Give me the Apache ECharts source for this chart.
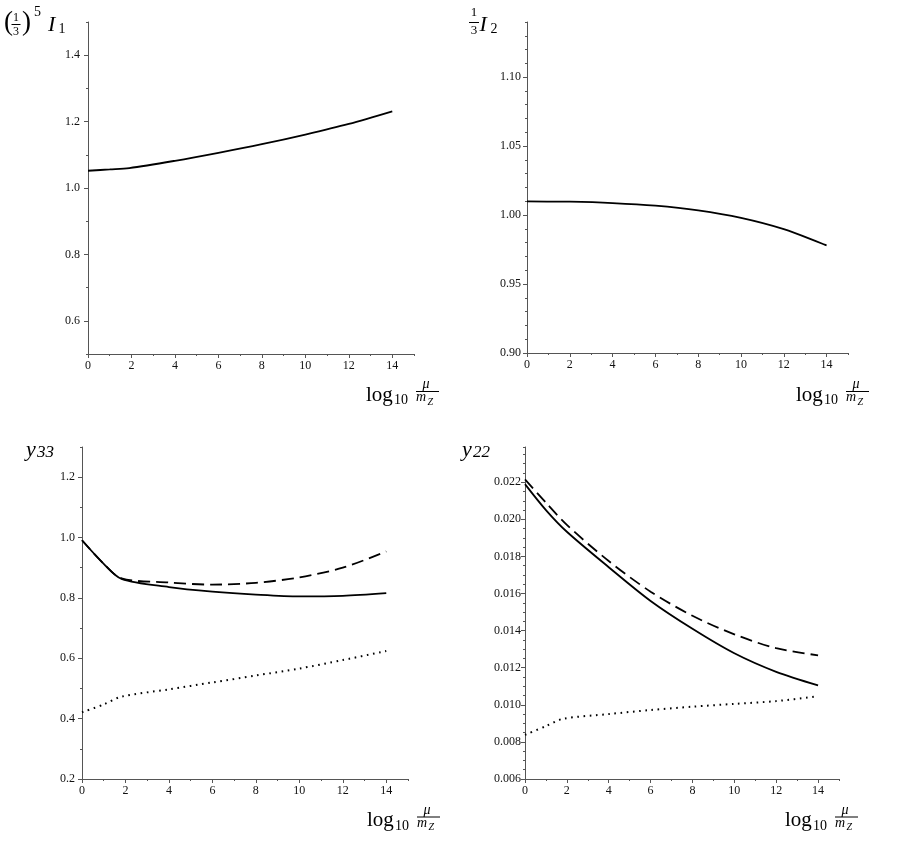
<!DOCTYPE html>
<html>
<head>
<meta charset="utf-8">
<script src="https://cdn.jsdelivr.net/npm/echarts@6/dist/echarts.min.js"></script>
<style>
html, body { margin: 0; background: #fff; }
#main { width: 898px; height: 855px; }
</style>
</head>
<body>
<div id="main"></div>
<script>
// x = log10(mu / mZ)
var xI1 = [0, 1, 1.9, 4, 6, 8, 10, 12, 14];
var valI1 = [1.052, 1.056, 1.060, 1.082, 1.106, 1.132, 1.161, 1.193, 1.231];

var xI2 = [0, 2, 4, 6, 8, 10, 12, 14];
var valI2 = [1.010, 1.0097, 1.0087, 1.0068, 1.0034, 0.998, 0.9898, 0.978];

var x33 = [0, 1, 1.82, 4, 6, 8, 10, 12, 14];
var y33Solid = [0.991, 0.913, 0.863, 0.836, 0.821, 0.811, 0.805, 0.807, 0.816];
var y33Dash = [0.991, 0.913, 0.865, 0.851, 0.844, 0.850, 0.868, 0.900, 0.954];
var y33Dot = [0.421, 0.447, 0.473, 0.497, 0.520, 0.543, 0.566, 0.594, 0.624];

var x22 = [0, 1, 2, 4, 6, 8, 10, 12, 14];
var y22Solid = [0.0219, 0.0205, 0.01933, 0.01742, 0.0156, 0.0141, 0.01278, 0.01178, 0.01105];
var y22Dash = [0.02215, 0.0209, 0.0197, 0.01775, 0.0161, 0.0148, 0.0138, 0.01305, 0.01267];
var x22Dot = [0, 1, 1.8, 4, 6, 8, 10, 12, 14];
var y22Dot = [0.00838, 0.00885, 0.00924, 0.0095, 0.00972, 0.0099, 0.01005, 0.0102, 0.01046];

var xTicks = [0, 2, 4, 6, 8, 10, 12, 14];
var ticksI1 = [0.6, 0.8, 1.0, 1.2, 1.4];
var ticksI2 = [0.90, 0.95, 1.00, 1.05, 1.10];
var ticks33 = [0.2, 0.4, 0.6, 0.8, 1.0, 1.2];
var ticks22 = [0.006, 0.008, 0.010, 0.012, 0.014, 0.016, 0.018, 0.020, 0.022];

var serif = "'Liberation Serif', 'DejaVu Serif', serif";
var axisColor = '#555';

var panels = [
    { grid: { left: 88, top: 22, width: 326, height: 332 }, yMin: 0.5, yMax: 1.5, yMinor: 0.1, yTicks: ticksI1, digits: 1, gap: 8 },
    { grid: { left: 527, top: 22, width: 321, height: 331 }, yMin: 0.9, yMax: 1.14, yMinor: 0.01, yTicks: ticksI2, digits: 2, gap: 6 },
    { grid: { left: 82, top: 447, width: 326, height: 332 }, yMin: 0.2, yMax: 1.3, yMinor: 0.1, yTicks: ticks33, digits: 1, gap: 7 },
    { grid: { left: 525, top: 447, width: 314, height: 332 }, yMin: 0.006, yMax: 0.0239, yMinor: 0.0005, yTicks: ticks22, digits: 3, gap: 4 }
];

var grids = [], xAxes = [], yAxes = [];
panels.forEach(function (p, i) {
    grids.push(p.grid);
    // main axes: line, long ticks, labels
    xAxes.push({
        type: 'value', gridIndex: i, min: 0, max: 15, position: 'bottom',
        axisLine: { onZero: false, lineStyle: { color: axisColor } },
        axisTick: { customValues: xTicks, length: 4, lineStyle: { color: axisColor } },
        axisLabel: { customValues: xTicks, fontFamily: serif, fontSize: 12, color: '#111', margin: 6 },
        splitLine: { show: false }
    });
    // minor ticks
    xAxes.push({
        type: 'value', gridIndex: i, min: 0, max: 15, interval: 1, position: 'bottom',
        axisLine: { show: false },
        axisTick: { length: 2, lineStyle: { color: axisColor } },
        axisLabel: { show: false },
        splitLine: { show: false }
    });
    yAxes.push({
        type: 'value', gridIndex: i, min: p.yMin, max: p.yMax, position: 'left',
        axisLine: { show: true, onZero: false, lineStyle: { color: axisColor } },
        axisTick: { show: true, customValues: p.yTicks, length: 4, lineStyle: { color: axisColor } },
        axisLabel: {
            customValues: p.yTicks, fontFamily: serif, fontSize: 12, color: '#111', margin: p.gap,
            formatter: function (v) { return Number(v).toFixed(p.digits); }
        },
        splitLine: { show: false }
    });
    yAxes.push({
        type: 'value', gridIndex: i, min: p.yMin, max: p.yMax, interval: p.yMinor, position: 'left',
        axisLine: { show: false },
        axisTick: { show: true, length: 2, lineStyle: { color: axisColor } },
        axisLabel: { show: false },
        splitLine: { show: false }
    });
});

function pairs(xs, ys) {
    return xs.map(function (x, k) { return [x, ys[k]]; });
}

function curve(panel, xs, ys, type, z) {
    return {
        type: 'line', xAxisIndex: panel * 2, yAxisIndex: panel * 2,
        data: pairs(xs, ys), showSymbol: false, smooth: 0.3, z: z,
        lineStyle: { color: '#000', width: type === 'dotted' ? 2 : 1.8,
            type: type === 'dashed' ? [12, 6] : (type === 'dotted' ? [1.6, 4.6] : 'solid') }
    };
}

var series = [
    curve(0, xI1, valI1, 'solid', 3),
    curve(1, xI2, valI2, 'solid', 3),
    curve(2, x33, y33Dot, 'dotted', 2),
    curve(2, x33, y33Dash, 'dashed', 2),
    curve(2, x33, y33Solid, 'solid', 3),
    curve(3, x22Dot, y22Dot, 'dotted', 2),
    curve(3, x22, y22Dash, 'dashed', 2),
    curve(3, x22, y22Solid, 'solid', 3)
];

// math-style labels
function txt(x, y, s, size, italic, align) {
    return {
        type: 'text', x: x, y: y, silent: true,
        style: { text: s, fontSize: size, fontFamily: serif, fontStyle: italic ? 'italic' : 'normal',
            fill: '#000', textAlign: align || 'left', textVerticalAlign: 'middle' }
    };
}
function bar(x1, x2, y) {
    return { type: 'line', silent: true, shape: { x1: x1, y1: y, x2: x2, y2: y },
        style: { stroke: '#000', lineWidth: 1 } };
}
function xName(x0, y0) {
    return [
        txt(x0, y0, 'log', 21),
        txt(x0 + 28, y0 + 5.6, '10', 14),
        txt(x0 + 60, y0 - 10.5, 'μ', 14, true, 'center'),
        bar(x0 + 50, x0 + 73, y0 - 3.5),
        txt(x0 + 50, y0 + 2.5, 'm', 14, true),
        txt(x0 + 61.5, y0 + 7, 'Z', 10, true)
    ];
}

var graphics = [].concat(
    xName(366, 395), xName(796, 395), xName(367, 820.5), xName(785, 820.5),
    [
        // (1/3)^5 I_1
        txt(4, 23, '(', 27),
        txt(16, 18, '1', 12, false, 'center'),
        bar(11.5, 20.5, 24.5),
        txt(16, 31.5, '3', 12, false, 'center'),
        txt(22, 23, ')', 27),
        txt(34, 12.5, '5', 14),
        txt(48, 25.5, 'I', 22, true),
        txt(58.5, 29, '1', 14),
        // 1/3 I_2
        txt(474, 13, '1', 13, false, 'center'),
        bar(469, 479, 22.5),
        txt(474, 30.5, '3', 13, false, 'center'),
        txt(479.5, 25.5, 'I', 22, true),
        txt(490.5, 29, '2', 14),
        // y33, y22
        txt(26, 450.5, 'y', 22, true),
        txt(37, 453, '33', 17, true),
        txt(462, 450.5, 'y', 22, true),
        txt(473, 453, '22', 17, true)
    ]
);

var chart = echarts.init(document.getElementById('main'));
chart.setOption({
    animation: false,
    backgroundColor: '#fff',
    grid: grids,
    xAxis: xAxes,
    yAxis: yAxes,
    series: series,
    graphic: graphics
});
</script>
</body>
</html>
